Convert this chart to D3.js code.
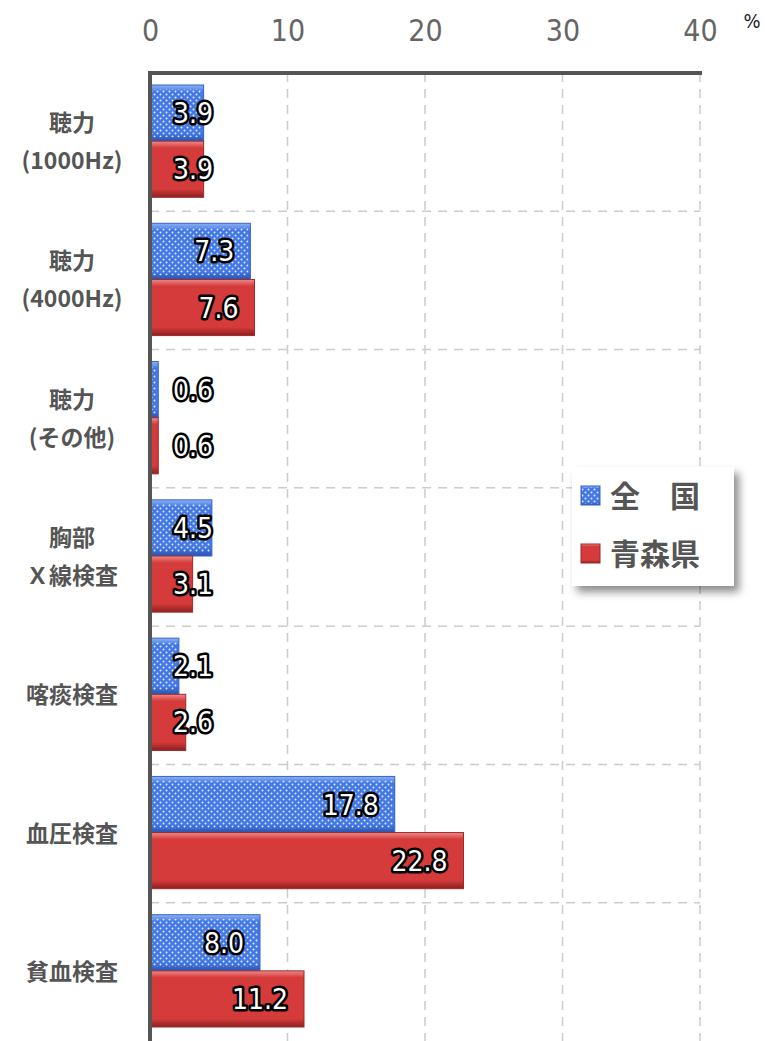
<!DOCTYPE html>
<html>
<head>
<meta charset="utf-8">
<script src="https://cdn.jsdelivr.net/npm/d3@7"></script>
<style>
  body { margin: 0; background: #fff; }
  svg { display: block; }
  .cat { font-family: "Noto Sans CJK JP", sans-serif; font-weight: 700; font-size: 23px; fill: #555; }
  .tick text { font-family: "DejaVu Sans Condensed", "Liberation Sans Narrow", sans-serif; font-size: 30px; fill: #666; }
  .val { font-family: "DejaVu Sans Condensed", sans-serif; font-size: 28px; fill: #fff; stroke: #000; stroke-width: 5px; paint-order: stroke; stroke-linejoin: round; }
  .leg { font-family: "Noto Sans CJK JP", sans-serif; font-weight: 700; font-size: 30px; fill: #555; }
</style>
</head>
<body>
<div id="chart"></div>
<script>
const categories = [["聴力", "(1000Hz)"], ["聴力", "(4000Hz)"], ["聴力", "(その他)"], ["胸部", "Ｘ線検査"], ["喀痰検査"], ["血圧検査"], ["貧血検査"]];
const zenkoku = [3.9, 7.3, 0.6, 4.5, 2.1, 17.8, 8.0];
const aomori = [3.9, 7.6, 0.6, 3.1, 2.6, 22.8, 11.2];
const seriesNames = ["全　国", "青森県"];
const ticks = [0, 10, 20, 30, 40];

const width = 765, height = 1041;
const svg = d3.select("#chart").append("svg").attr("width", width).attr("height", height);
const defs = svg.append("defs");

function grad(id, top, mid, bot) {
  const g = defs.append("linearGradient").attr("id", id).attr("x1", 0).attr("y1", 0).attr("x2", 0).attr("y2", 1);
  g.append("stop").attr("offset", "0%").attr("stop-color", top);
  g.append("stop").attr("offset", "12%").attr("stop-color", mid);
  g.append("stop").attr("offset", "85%").attr("stop-color", mid);
  g.append("stop").attr("offset", "100%").attr("stop-color", bot);
}
grad("gBlue", "#8fb4f5", "#4378e4", "#2a55b0");
grad("gRed", "#f08a8a", "#d53b3b", "#8e1f1f");

const pat = defs.append("pattern").attr("id", "dots").attr("patternUnits", "userSpaceOnUse").attr("width", 6).attr("height", 6);
pat.append("circle").attr("cx", 1.5).attr("cy", 1.5).attr("r", 1).attr("fill", "#dfe9ff");
pat.append("circle").attr("cx", 4.5).attr("cy", 4.5).attr("r", 1).attr("fill", "#dfe9ff");

const sh = defs.append("filter").attr("id", "shadow").attr("x", "-10%").attr("y", "-10%").attr("width", "130%").attr("height", "130%");
sh.append("feDropShadow").attr("dx", 5).attr("dy", 6).attr("stdDeviation", 4).attr("flood-color", "#000").attr("flood-opacity", 0.45);

const x = d3.scaleLinear().domain([0, 40]).range([150, 700]);
const y = d3.scaleBand().domain(d3.range(categories.length)).range([73, 1041]);
const inner = d3.scaleBand().domain([0, 1]).range([12, y.bandwidth() - 14]);

// grid
svg.append("g").selectAll("line").data(ticks.slice(1)).join("line")
  .attr("x1", d => x(d)).attr("x2", d => x(d)).attr("y1", 73).attr("y2", height)
  .attr("stroke", "#ccc").attr("stroke-width", 1.5).attr("stroke-dasharray", "9,7");
svg.append("g").selectAll("line").data(d3.range(1, categories.length)).join("line")
  .attr("x1", x(0)).attr("x2", x(40)).attr("y1", d => y(d)).attr("y2", d => y(d))
  .attr("stroke", "#ccc").attr("stroke-width", 1.5).attr("stroke-dasharray", "9,7");

// axis labels
const axis = svg.append("g").attr("transform", "translate(0,41)")
  .call(d3.axisTop(x).tickValues(ticks).tickSize(0).tickPadding(0));
axis.select(".domain").remove();
svg.append("text").attr("x", 752).attr("y", 28).attr("text-anchor", "middle")
  .attr("font-family", "DejaVu Sans Condensed, sans-serif").attr("font-size", 20).attr("fill", "#222").text("%");

// bars
const series = [zenkoku, aomori];
const fills = ["url(#gBlue)", "url(#gRed)"];
series.forEach((vals, s) => {
  const g = svg.append("g");
  g.selectAll("rect.bar").data(vals).join("rect").attr("class", "bar")
    .attr("x", x(0)).attr("y", (d, i) => y(i) + inner(s))
    .attr("width", d => x(d) - x(0)).attr("height", inner.bandwidth())
    .attr("fill", fills[s]).attr("stroke", s ? "#9a2a2a" : "#3563c4").attr("stroke-width", 1);
  if (s === 0) {
    g.selectAll("rect.dot").data(vals).join("rect").attr("class", "dot")
      .attr("x", x(0)).attr("y", (d, i) => y(i) + inner(s) + 4)
      .attr("width", d => Math.max(0, x(d) - x(0) - 2)).attr("height", inner.bandwidth() - 8)
      .attr("fill", "url(#dots)");
  }
  g.selectAll("text").data(vals).join("text").attr("class", "val")
    .attr("x", d => Math.max(x(d) - 16, x(0) + 63))
    .attr("y", (d, i) => y(i) + inner(s) + inner.bandwidth() / 2 + 10)
    .attr("text-anchor", "end").text(d => d.toFixed(1));
});

// axes lines
svg.append("line").attr("x1", 150).attr("x2", 702).attr("y1", 73).attr("y2", 73).attr("stroke", "#555").attr("stroke-width", 4);
svg.append("line").attr("x1", 150).attr("x2", 150).attr("y1", 71).attr("y2", height).attr("stroke", "#555").attr("stroke-width", 4);

// category labels
categories.forEach((lines, i) => {
  const cy = y(i) + y.bandwidth() / 2;
  lines.forEach((t, j) => {
    svg.append("text").attr("class", "cat").attr("x", 72).attr("text-anchor", "middle")
      .attr("y", cy + 8 + (j - (lines.length - 1) / 2) * 38).text(t);
  });
});

// legend
const lg = svg.append("g").attr("transform", "translate(572,467)");
lg.append("rect").attr("width", 162).attr("height", 119).attr("fill", "#fff").attr("filter", "url(#shadow)");
seriesNames.forEach((n, i) => {
  const cy = 28 + i * 58;
  lg.append("rect").attr("x", 9).attr("y", cy - 9).attr("width", 19).attr("height", 19).attr("fill", fills[i]).attr("stroke", i ? "#9a2a2a" : "#3563c4");
  if (i === 0) lg.append("rect").attr("x", 10).attr("y", cy - 8).attr("width", 17).attr("height", 17).attr("fill", "url(#dots)");
  lg.append("text").attr("class", "leg").attr("x", 38).attr("y", cy + 12).text(n);
});
</script>
</body>
</html>
